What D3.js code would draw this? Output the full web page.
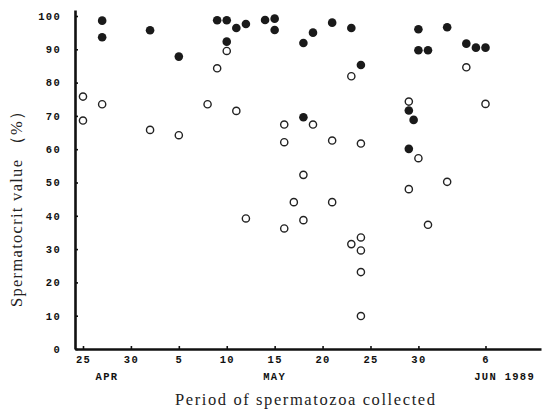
<!DOCTYPE html>
<html>
<head>
<meta charset="utf-8">
<script src="https://cdn.jsdelivr.net/npm/d3@7"></script>
<style>
  body { margin: 0; background: #fff; }
  svg { display: block; }
  .tick text { font-family: "Liberation Mono", monospace; font-weight: bold; font-size: 10.5px; letter-spacing: 1.3px; fill: #111; }
  .title { font-family: "Liberation Serif", serif; font-size: 16.5px; fill: #222; }
</style>
</head>
<body>
<svg width="543" height="410"></svg>
<script>
// solid dots: [date, spermatocrit %]
const filledPoints = [
  ["1989-04-27", 98.6], ["1989-04-27", 93.6], ["1989-05-02", 95.7], ["1989-05-05", 87.8],
  ["1989-05-09", 98.7], ["1989-05-10", 98.7], ["1989-05-10", 92.3], ["1989-05-11", 96.4],
  ["1989-05-12", 97.6], ["1989-05-14", 98.8], ["1989-05-15", 99.2], ["1989-05-15", 95.8],
  ["1989-05-18", 91.9], ["1989-05-18", 69.6], ["1989-05-19", 95.0], ["1989-05-21", 98.0],
  ["1989-05-23", 96.4], ["1989-05-24", 85.3], ["1989-05-29", 71.6], ["1989-05-29T12:00", 68.8],
  ["1989-05-29", 60.1], ["1989-05-30", 96.0], ["1989-05-30", 89.7], ["1989-05-31", 89.7],
  ["1989-06-02", 96.6], ["1989-06-04", 91.7], ["1989-06-05", 90.5], ["1989-06-06", 90.5]
];

// open circles
const openPoints = [
  ["1989-04-25", 75.8], ["1989-04-25", 68.6], ["1989-04-27", 73.5], ["1989-05-02", 65.8],
  ["1989-05-05", 64.2], ["1989-05-08", 73.5], ["1989-05-09", 84.3], ["1989-05-10", 89.5],
  ["1989-05-11", 71.5], ["1989-05-12", 39.2], ["1989-05-16", 67.4], ["1989-05-16", 62.1],
  ["1989-05-16", 36.2], ["1989-05-17", 44.1], ["1989-05-18", 52.3], ["1989-05-18", 38.7],
  ["1989-05-19", 67.4], ["1989-05-21", 62.6], ["1989-05-21", 44.1], ["1989-05-23", 81.9],
  ["1989-05-23", 31.5], ["1989-05-24", 61.7], ["1989-05-24", 33.5], ["1989-05-24", 29.6],
  ["1989-05-24", 23.1], ["1989-05-24", 9.9], ["1989-05-29", 74.3], ["1989-05-29", 48.0],
  ["1989-05-30", 57.3], ["1989-05-31", 37.3], ["1989-06-02", 50.2], ["1989-06-04", 84.6],
  ["1989-06-06", 73.6]
];

const xTickDates = ["1989-04-25", "1989-04-30", "1989-05-05", "1989-05-10", "1989-05-15",
  "1989-05-20", "1989-05-25", "1989-05-30", "1989-06-06"];
const yTickValues = [0, 10, 20, 30, 40, 50, 60, 70, 80, 90, 100];
const monthLabels = [["APR", "1989-04-27T12:00"], ["MAY", "1989-05-15"], ["JUN 1989", "1989-06-08"]];

const parse = s => new Date(s.length > 10 ? s + "Z" : s + "T00:00Z");

var svg = d3.select("svg");

var x = d3.scaleUtc()
  .domain([d3.utcHour.offset(parse("1989-04-25"), -20), d3.utcHour.offset(parse("1989-06-11"), 19)])
  .range([75, 541]);

var y = d3.scaleLinear()
  .domain([0, 101.8])
  .range([349, 10]);

// x axis
var xAxis = svg.append("g")
  .attr("transform", "translate(0," + y(0) + ")")
  .call(d3.axisBottom(x)
    .tickValues(xTickDates.map(parse))
    .tickFormat(d3.utcFormat("%-d"))
    .tickSize(-3)
    .tickSizeOuter(0)
    .tickPadding(7));

// y axis
var yAxis = svg.append("g")
  .attr("transform", "translate(" + x.range()[0] + ",0)")
  .call(d3.axisLeft(y)
    .tickValues(yTickValues)
    .tickSize(-3)
    .tickSizeOuter(0)
    .tickPadding(14));

svg.selectAll(".domain").attr("stroke", "#111").attr("stroke-width", 2.6);
svg.selectAll(".tick line").attr("stroke", "#111").attr("stroke-width", 1.6);

svg.append("g")
  .selectAll("text")
  .data(monthLabels)
  .enter().append("text")
  .attr("x", function (d) { return x(parse(d[1])); })
  .attr("y", 380)
  .attr("text-anchor", "middle")
  .style("font-family", "'Liberation Mono', monospace")
  .style("font-weight", "bold")
  .style("font-size", "10.5px")
  .style("letter-spacing", "1.3px")
  .style("fill", "#111")
  .text(function (d) { return d[0]; });

// points
svg.append("g")
  .selectAll("circle")
  .data(openPoints)
  .enter().append("circle")
  .attr("cx", function (d) { return x(parse(d[0])); })
  .attr("cy", function (d) { return y(d[1]); })
  .attr("r", 3.6)
  .attr("fill", "#fff")
  .attr("stroke", "#222")
  .attr("stroke-width", 1.4);

svg.append("g")
  .selectAll("circle")
  .data(filledPoints)
  .enter().append("circle")
  .attr("cx", function (d) { return x(parse(d[0])); })
  .attr("cy", function (d) { return y(d[1]); })
  .attr("r", 4.3)
  .attr("fill", "#1a1a1a");

// titles
svg.append("text")
  .attr("class", "title")
  .attr("transform", "translate(22,205) rotate(-90)")
  .attr("text-anchor", "middle")
  .attr("textLength", 204)
  .attr("lengthAdjust", "spacing")
  .text("Spermatocrit value （%）");

svg.append("text")
  .attr("class", "title")
  .attr("x", 305)
  .attr("y", 405)
  .attr("text-anchor", "middle")
  .attr("textLength", 260)
  .attr("lengthAdjust", "spacing")
  .text("Period of spermatozoa collected");
</script>
</body>
</html>
